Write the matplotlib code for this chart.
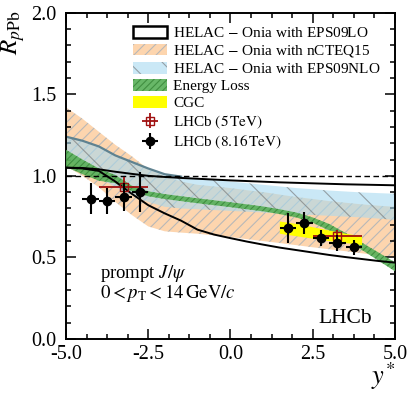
import matplotlib
matplotlib.use("Agg")
import matplotlib.pyplot as plt
from matplotlib.patches import Patch
from matplotlib.ticker import MultipleLocator, FormatStrFormatter

plt.rcParams['font.family'] = 'serif'
plt.rcParams['font.serif'] = ['Liberation Serif', 'DejaVu Serif']
plt.rcParams['mathtext.fontset'] = 'stix'
plt.rcParams['hatch.linewidth'] = 0.8

# rapidity grid for the theory bands
ys = [-5.0, -4.5, -4.0, -3.5, -3.0, -2.5, -2.0, -1.5, -1.0, -0.5, 0.0,
      0.5, 1.0, 1.5, 2.0, 2.5, 3.0, 3.5, 4.0, 4.5, 5.0]

# HELAC-Onia with EPS09LO
lo_up = [1.05, 1.048, 1.04, 1.025, 1.012, 1.0, 0.993, 0.987, 0.982, 0.977, 0.972,
         0.968, 0.964, 0.96, 0.957, 0.954, 0.951, 0.948, 0.946, 0.944, 0.942]
lo_dn = [1.05, 1.045, 1.03, 0.965, 0.89, 0.82, 0.77, 0.725, 0.67, 0.64, 0.618,
         0.597, 0.578, 0.56, 0.545, 0.53, 0.515, 0.502, 0.49, 0.478, 0.468]
# HELAC-Onia with nCTEQ15
ncteq_up = [1.42, 1.35, 1.27, 1.19, 1.12, 1.04, 1.0, 0.965, 0.945, 0.935, 0.925,
            0.912, 0.90, 0.885, 0.87, 0.858, 0.845, 0.835, 0.825, 0.817, 0.81]
ncteq_dn = [1.06, 1.0, 0.93, 0.84, 0.76, 0.69, 0.66, 0.652, 0.645, 0.635, 0.625,
            0.612, 0.60, 0.588, 0.575, 0.562, 0.55, 0.538, 0.525, 0.512, 0.50]
# HELAC-Onia with EPS09NLO
nlo_up = [1.24, 1.215, 1.18, 1.125, 1.085, 1.045, 1.01, 0.995, 0.985, 0.975, 0.965,
          0.955, 0.945, 0.935, 0.925, 0.918, 0.91, 0.904, 0.898, 0.894, 0.89]
nlo_dn = [1.11, 1.05, 0.99, 0.93, 0.88, 0.84, 0.81, 0.80, 0.795, 0.79, 0.785,
          0.78, 0.775, 0.77, 0.765, 0.76, 0.755, 0.75, 0.745, 0.738, 0.73]
# Energy loss
eloss_up = [1.16, 1.10, 1.045, 1.005, 0.94, 0.905, 0.888, 0.875, 0.862, 0.85, 0.838,
            0.825, 0.812, 0.795, 0.775, 0.745, 0.705, 0.65, 0.59, 0.53, 0.47]
eloss_dn = [1.055, 1.01, 0.97, 0.955, 0.905, 0.875, 0.858, 0.845, 0.832, 0.82, 0.808,
            0.795, 0.782, 0.765, 0.745, 0.712, 0.665, 0.605, 0.545, 0.48, 0.415]
# CGC
cgc_x = [1.5, 2.0, 2.5, 3.0, 3.5, 4.0]
cgc_up = [0.72, 0.705, 0.685, 0.665, 0.645, 0.63]
cgc_dn = [0.645, 0.63, 0.615, 0.60, 0.588, 0.575]

# LHCb 8.16 TeV
d8_x = [-4.25, -3.75, -3.25, -2.75, 1.75, 2.25, 2.75, 3.25, 3.75]
d8_y = [0.86, 0.846, 0.872, 0.903, 0.678, 0.709, 0.617, 0.59, 0.562]
d8_ey = [0.095, 0.08, 0.087, 0.122, 0.092, 0.067, 0.05, 0.05, 0.045]
d8_ex = [0.25] * 9
# LHCb 5 TeV
d5_x = [-3.25, 3.25]
d5_y = [0.933, 0.63]
d5_ey = [0.06, 0.035]
d5_ex = [0.75, 0.75]

peach = '#fdd5ae'
blue = '#a8daf0'
green = '#58b058'

fig = plt.figure(figsize=(4.14, 3.96), dpi=100)
ax = fig.add_axes([0.1594, 0.144, 0.7946, 0.824])

ax.fill_between(ys, ncteq_dn, ncteq_up, facecolor=peach, edgecolor='#b8b8b8',
                hatch='///', lw=0, zorder=1)
ax.fill_between(ys, nlo_dn, nlo_up, facecolor=blue, edgecolor='#707070',
                hatch='\\', lw=0, alpha=0.6, zorder=2)
# edge of the NLO band, only visible on the backward side
ax.plot(ys[:8], nlo_up[:8], color='#5f8290', lw=1.6, zorder=2.5)
ax.fill_between(ys, eloss_dn, eloss_up, facecolor=green, edgecolor='#3c8a3c',
                hatch='/////', lw=0, alpha=0.9, zorder=3)
ax.fill_between(cgc_x, cgc_dn, cgc_up, facecolor='#ffff00', lw=0, zorder=4)
ax.plot(ys, lo_up, color='black', lw=1.4, zorder=5)
ax.plot(ys, lo_dn, color='black', lw=1.4, zorder=5)
ax.axhline(1.0, color='black', lw=1.0, ls=(0, (4, 2.5)), zorder=5)

e5 = ax.errorbar(d5_x, d5_y, xerr=d5_ex, yerr=d5_ey, fmt='s', ms=6,
                 mfc='none', mec='#a01010', color='#a01010', elinewidth=1.3,
                 capsize=0, zorder=6)
e8 = ax.errorbar(d8_x, d8_y, xerr=d8_ex, yerr=d8_ey, fmt='o', ms=6,
                 color='black', elinewidth=1.5, capsize=0, zorder=7)

ax.set_xlim(-5, 5)
ax.set_ylim(0, 2)
ax.xaxis.set_major_locator(MultipleLocator(2.5))
ax.xaxis.set_minor_locator(MultipleLocator(0.625))
ax.yaxis.set_major_locator(MultipleLocator(0.5))
ax.yaxis.set_minor_locator(MultipleLocator(0.1))
ax.xaxis.set_major_formatter(FormatStrFormatter('%.1f'))
ax.yaxis.set_major_formatter(FormatStrFormatter('%.1f'))
ax.tick_params(which='both', direction='in', top=True, right=True,
               labelsize=14.5, width=1.1)
ax.tick_params(axis='x', pad=4)
ax.tick_params(axis='y', pad=7)
ax.tick_params(which='major', length=7)
ax.tick_params(which='minor', length=3.5)
for s in ax.spines.values():
    s.set_linewidth(1.4)

ax.set_xlabel('$y^{*}$', fontsize=19, loc='right', labelpad=-2)
ax.set_ylabel(r'$R_{p\mathrm{Pb}}$', fontsize=18, loc='top')
ax.yaxis.set_label_coords(-0.118, 1.005)

ax.text(0.103, 0.187, r'prompt $J/\psi$', transform=ax.transAxes, fontsize=13.5)
ax.text(0.103, 0.126, r'$0 < p_{\mathrm{T}} < 14\,\mathrm{GeV}/c$',
        transform=ax.transAxes, fontsize=13.5)
ax.text(0.93, 0.063, 'LHCb', transform=ax.transAxes, fontsize=15.5,
        ha='right', va='center')

handles = [
    Patch(facecolor='white', edgecolor='black', lw=1.8),
    Patch(facecolor=peach, edgecolor='#b8b8b8', hatch='///', lw=0),
    Patch(facecolor=blue, edgecolor='#707070', hatch='\\', lw=0, alpha=0.6),
    Patch(facecolor=green, edgecolor='#3c8a3c', hatch='/////', lw=0, alpha=0.9),
    Patch(facecolor='#ffff00', lw=0),
    e5, e8,
]
labels = [
    r'HELAC $-$ Onia with EPS09LO',
    r'HELAC $-$ Onia with nCTEQ15',
    r'HELAC $-$ Onia with EPS09NLO',
    'Energy Loss',
    'CGC',
    r'LHCb $(5\,\mathrm{TeV})$',
    r'LHCb $(8.16\,\mathrm{TeV})$',
]
ax.legend(handles, labels, loc='upper left', bbox_to_anchor=(0.2, 0.963),
          frameon=False, fontsize=11, handlelength=2.2, handleheight=0.75,
          handletextpad=0.4, labelspacing=0.2, borderpad=0.1,
          borderaxespad=0)

fig.savefig('out.png', dpi=100)
